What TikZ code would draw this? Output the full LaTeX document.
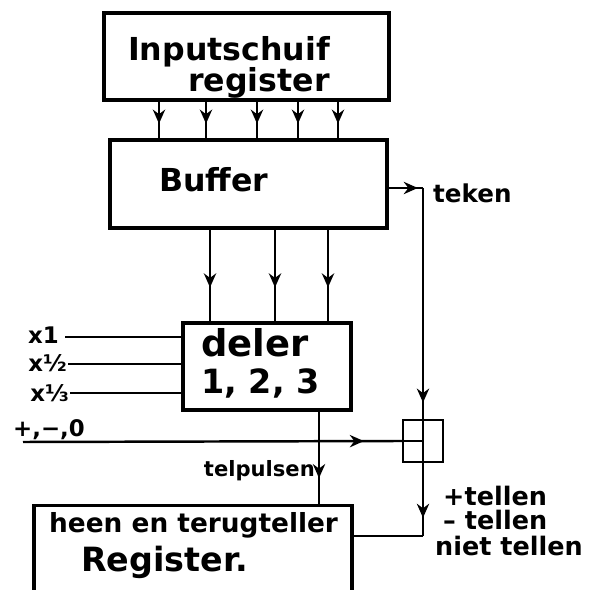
\documentclass[tikz,border=0pt]{standalone}
\usepackage{fontspec}
\setmainfont{DejaVu Sans}
\usetikzlibrary{arrows.meta,decorations.markings}

\tikzset{
  blok/.style={draw, line width=1.8pt, inner sep=0pt},
  schrift/.style={font=\fontsize{#1}{#1}\selectfont\bfseries, inner sep=0pt},
  pijl/.style={postaction={decorate}, decoration={markings,
      mark=at position #1 with {\arrow{Stealth[length=8pt,width=7pt]}}}},
}

\begin{document}
\begin{tikzpicture}[x=0.02cm, y=-0.02cm, line width=1.4pt]
    \useasboundingbox (0,0) rectangle (598,590);
    \clip (0,0) rectangle (598,590);
    % input schuifregister
    \node[blok, minimum width=5.7cm, minimum height=1.74cm] (input) at (246.5,56.5) {};
    \node[schrift=18, anchor=base west] (inputtekst) at (127,61) {Inputschuif};
    \node[schrift=18, anchor=base west] (registertekst) at (187,92) {register};
    % buffer
    \node[blok, minimum width=5.54cm, minimum height=1.76cm] (buffer) at (248.5,184) {};
    \node[schrift=18, anchor=base west] (buffertekst) at (158,192) {Buffer};
    \foreach \x in {159,206,257,298,338}
        \draw[pijl=0.6] (input.south -| \x,0) -- (buffer.north -| \x,0);
    % deler
    \node[blok, minimum width=3.36cm, minimum height=1.74cm] (deler) at (267,366.5) {};
    \node[schrift=21, anchor=base west] (delertekst) at (200,357) {deler};
    \node[schrift=19, anchor=base west] (delercijfers) at (200,394) {1, 2, 3};
    \foreach \x in {210,275,328}
        \draw[pijl=0.63] (buffer.south -| \x,0) -- (deler.north -| \x,0);
    % factoren
    \node[schrift=13, anchor=base east] (x1) at (60,344) {x1};
    \node[schrift=13, anchor=base east] (xhalf) at (68,372) {x½};
    \node[schrift=13, anchor=base east] (xderde) at (70,402) {x⅓};
    \draw (x1.east |- 0,337) ++(5,0) -- (deler.west |- 0,337);
    \draw (xhalf.east |- 0,364) -- (deler.west |- 0,364);
    \draw (xderde.east |- 0,393) -- (deler.west |- 0,393);
    % teken
    \node[blok, line width=1.4pt, minimum width=0.8cm, minimum height=0.84cm] (schakelaar) at (423,441) {};
    \coordinate (hoek) at (423,188);
    \node[schrift=14, anchor=base west] (teken) at (432,203) {teken};
    \draw[pijl=0.85] (buffer.east |- hoek) -- (hoek);
    \draw[pijl=0.93] (hoek) -- (schakelaar.north);
    \draw (schakelaar.north) -- (schakelaar.south);
    \draw (schakelaar.west) -- (schakelaar.center);
    % +,-,0
    \node[schrift=13, anchor=base west] (richting) at (12,437) {+,−,0};
    \coordinate (richtingbegin) at (23,442);
    \draw[pijl=0.9] (richtingbegin) -- (schakelaar.west);
    % heen en terugteller
    \node[blok, minimum width=6.36cm, minimum height=2.4cm, anchor=north] (teller) at (193,504) {};
    \node[schrift=15, anchor=base west] (tellertekst) at (48,533) {heen en terugteller};
    \node[schrift=19, anchor=base west] (registertekst2) at (80,571) {Register.};
    \draw[pijl=0.72] (deler.south -| 319,0) -- (teller.north -| 319,0);
    \node[schrift=12, anchor=base east] (telpulsen) at (316,477) {telpulsen};
    % tellen
    \coordinate (terug) at (423,536);
    \draw[pijl=0.75] (schakelaar.south) -- (terug);
    \draw (terug) -- (teller.east |- terug);
    \node[schrift=14.5, anchor=base west] (plus) at (442,506) {+tellen};
    \node[schrift=14.5, anchor=base west] (min) at (442,530) {-- tellen};
    \node[schrift=14.5, anchor=base west] (niet) at (434,556) {niet tellen};
\end{tikzpicture}
\end{document}
